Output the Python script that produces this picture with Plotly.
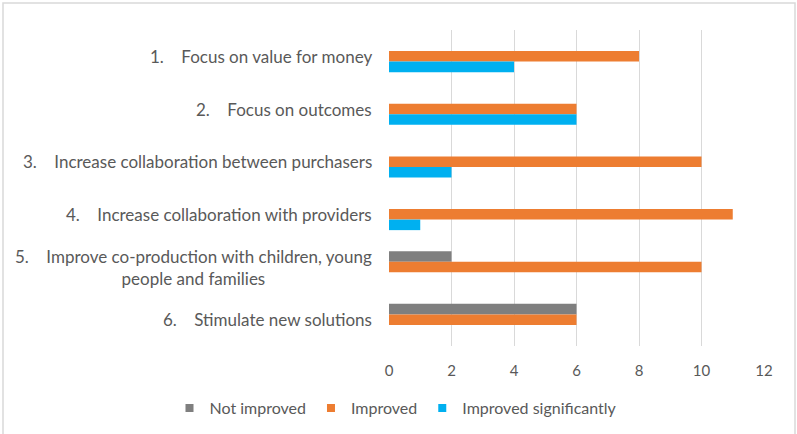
import plotly.graph_objects as go

categories = [
    "1.\u00a0\u00a0\u00a0\u00a0Focus on value for money",
    "2.\u00a0\u00a0\u00a0\u00a0Focus on outcomes",
    "3.\u00a0\u00a0\u00a0\u00a0Increase collaboration between purchasers",
    "4.\u00a0\u00a0\u00a0\u00a0Increase collaboration with providers",
    "5.\u00a0\u00a0\u00a0\u00a0Improve co-production with children, young<br>people and families",
    "6.\u00a0\u00a0\u00a0\u00a0Stimulate new solutions",
]
not_improved = [0, 0, 0, 0, 2, 6]
improved = [8, 6, 10, 11, 10, 6]
improved_sig = [4, 6, 2, 1, 0, 0]
x_ticks = [0, 2, 4, 6, 8, 10, 12]

series = [
    ("Not improved", not_improved, "#7F7F7F"),
    ("Improved", improved, "#ED7D31"),
    ("Improved significantly", improved_sig, "#00B0F0"),
]

FONT = "Lato"
TXT = "#595959"
keys = [str(i) for i in range(len(categories))]

L, R, T, B = 389, 33, 30, 88
PW, PH = 797 - L - R, 434 - T - B

fig = go.Figure()
for name, vals, col in series:
    fig.add_trace(go.Bar(y=keys, x=vals, orientation="h", name=name,
                         marker=dict(color=col, line=dict(width=0)),
                         showlegend=False))
for name, vals, col in series:
    fig.add_trace(go.Scatter(x=[None], y=[None], mode="markers", name=name,
                             marker=dict(symbol="square", size=8, color=col)))

for k, lab in zip(keys, categories):
    fig.add_annotation(x=0, xref="paper", y=k, yref="y", text=lab,
                       xanchor="right", align="center", showarrow=False,
                       xshift=-15, font=dict(family=FONT, size=17, color=TXT))

fig.update_layout(
    width=797, height=434,
    margin=dict(l=L, r=R, t=T, b=B, autoexpand=False),
    paper_bgcolor="white", plot_bgcolor="white",
    barmode="group", bargap=0.4, bargroupgap=0,
    font=dict(family=FONT, size=15, color=TXT),
    legend=dict(orientation="h", x=(169.5 - L) / PW, xanchor="left",
                y=-(403 - 12 - T - PH) / PH, yanchor="top",
                font=dict(family=FONT, size=16, color=TXT),
                itemwidth=30, traceorder="normal", entrywidth=0),
    xaxis=dict(range=[0, 12], tickvals=x_ticks, showgrid=True,
               gridcolor="#D9D9D9", gridwidth=1, zeroline=False,
               showline=False, ticks="", ticklabelstandoff=14,
               tickfont=dict(size=15, color=TXT)),
    yaxis=dict(autorange="reversed", showticklabels=False, showgrid=False,
               zeroline=False, showline=False, ticks=""),
    shapes=[dict(type="rect", xref="paper", yref="paper",
                 x0=-(L - 3) / PW, x1=1 + (R - 2) / PW,
                 y0=-(B + 5) / PH, y1=1 + (T - 3) / PH,
                 line=dict(color="#D9D9D9", width=1.5))],
)

fig.write_html("out.html")
